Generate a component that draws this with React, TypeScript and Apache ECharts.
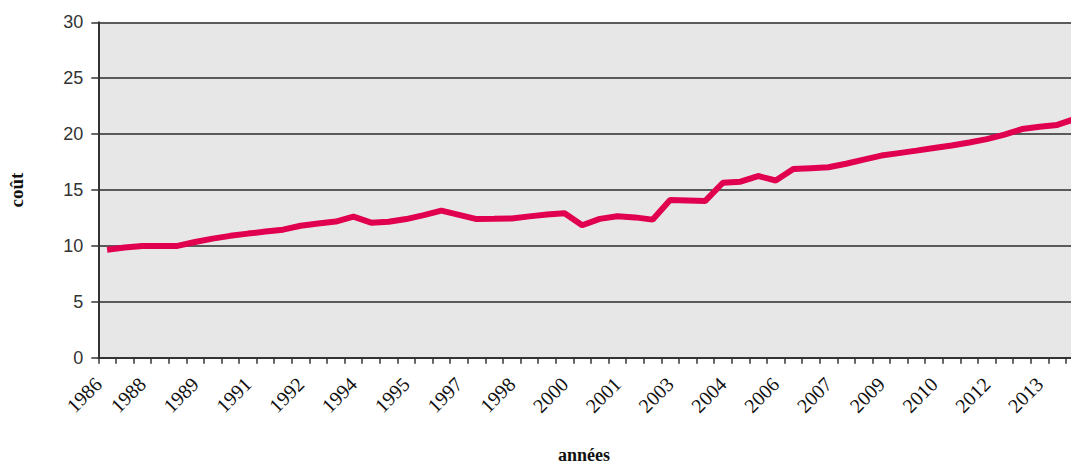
import React, { useEffect, useRef } from "react";
import * as echarts from "echarts";

// one value per category (half-year steps)
const costs: number[] = [
  9.65, 9.85, 10.0, 10.0, 10.0, 10.35, 10.65, 10.9, 11.1, 11.28,
  11.45, 11.8, 12.0, 12.18, 12.62, 12.08, 12.16, 12.4, 12.75, 13.15,
  12.78, 12.4, 12.42, 12.46, 12.64, 12.8, 12.92, 11.85, 12.42, 12.65,
  12.55, 12.35, 14.11, 14.07, 14.02, 15.65, 15.74, 16.25, 15.85, 16.87,
  16.95, 17.03, 17.35, 17.72, 18.08, 18.3, 18.52, 18.75, 18.98, 19.25,
  19.55, 19.95, 20.45, 20.65, 20.82, 21.35,
];

// tick labels shown under the axis (origin, then every third category)
const tickLabels: string[] = [
  "1986", "1988", "1989", "1991", "1992", "1994", "1995", "1997", "1998",
  "2000", "2001", "2003", "2004", "2006", "2007", "2009", "2010", "2012", "2013",
];

const yTicks = { min: 0, max: 30, interval: 5 };

export default function App() {
  const ref = useRef<HTMLDivElement>(null);

  useEffect(() => {
    document.body.style.margin = "0";
    if (!ref.current) return;
    const chart = echarts.init(ref.current, undefined, { renderer: "svg" });
    const n = costs.length;
    const labelAt = (v: number): string => {
      if (v === 0) return tickLabels[0];
      const i = (v + 0.5) / 3;
      if (Number.isInteger(i) && i >= 1 && i < tickLabels.length) return tickLabels[i];
      return "";
    };
    chart.setOption({
      animation: false,
      grid: {
        left: 98.3,
        top: 22.3,
        right: 6.4,
        bottom: 107.3,
        containLabel: false,
        outerBoundsMode: "none",
        show: true,
        backgroundColor: "#e7e7e7",
        borderWidth: 0,
      },
      xAxis: [
        {
          type: "value",
          min: 0,
          max: n,
          interval: 1,
          position: "bottom",
          axisLine: { show: true, lineStyle: { color: "#333", width: 2 } },
          axisTick: { show: true, length: 6, inside: false, lineStyle: { color: "#333", width: 1.5 } },
          axisLabel: { show: false },
          splitLine: { show: false },
          name: "années",
          nameLocation: "middle",
          nameGap: 88,
          nameTextStyle: {
            fontFamily: "Liberation Serif",
            fontWeight: "bold",
            fontSize: 18,
            color: "#111",
            padding: [0, 14, 0, 0],
          },
        },
        {
          type: "value",
          min: 0,
          max: n,
          interval: 0.5,
          position: "bottom",
          axisLine: { show: false, onZero: false },
          axisTick: { show: false },
          splitLine: { show: false },
          axisLabel: {
            show: true,
            rotate: 45,
            margin: 23,
            fontFamily: "Liberation Serif",
            fontSize: 20,
            color: "#111",
            formatter: (v: number) => labelAt(v),
          },
        },
      ],
      yAxis: {
        type: "value",
        min: yTicks.min,
        max: yTicks.max,
        interval: yTicks.interval,
        axisLine: { show: true, lineStyle: { color: "#333", width: 2 } },
        axisTick: { show: true, length: 7, inside: false, lineStyle: { color: "#333", width: 1.5 } },
        axisLabel: {
          margin: 15,
          fontFamily: "Liberation Sans",
          fontSize: 18,
          color: "#333",
        },
        splitLine: { show: true, lineStyle: { color: "#2b2b2b", width: 1.5 } },
        name: "coût",
        nameLocation: "middle",
        nameGap: 72,
        nameTextStyle: {
          fontFamily: "Liberation Serif",
          fontWeight: "bold",
          fontSize: 19,
          color: "#111",
        },
      },
      series: [
        {
          type: "line",
          xAxisIndex: 0,
          showSymbol: false,
          data: costs.map((v, i) => [i + 0.5, v]),
          lineStyle: { color: "#e1004f", width: 6 },
          itemStyle: { color: "#e1004f" },
          clip: true,
        },
      ],
    });
    return () => chart.dispose();
  }, []);

  return (
    <div style={{ width: 1071, height: 465, overflow: "hidden", background: "#fff" }}>
      <div ref={ref} style={{ width: 1090, height: 465 }} />
    </div>
  );
}
